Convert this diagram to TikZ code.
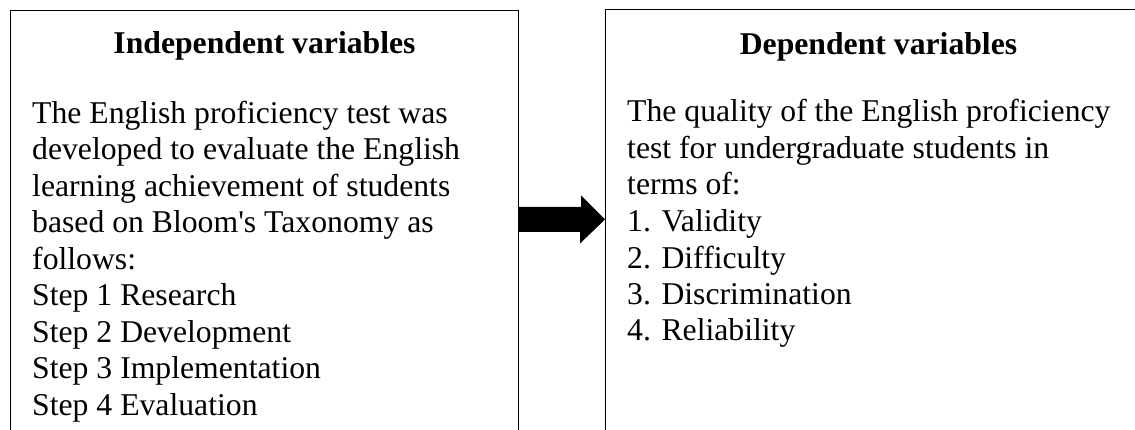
\documentclass[tikz,border=0pt]{standalone}
\usepackage{fontspec}
\setmainfont{Liberation Serif}
\usepackage{tikz}

\tikzset{
  varbox/.style={draw, line width=1pt, rectangle, inner sep=0pt, anchor=north west},
  heading/.style={font=\fontsize{31.7pt}{36.5pt}\selectfont\bfseries, inner sep=0pt, anchor=base},
  % multi-line text: the base anchor sits on the last line
  bodytext/.style={font=\fontsize{31.7pt}{36.5pt}\selectfont, align=left, inner sep=0pt, anchor=base west},
}

\begin{document}
\begin{tikzpicture}[x=1pt, y=-1pt]
  % Page frame
  \fill[white] (0,0) rectangle (1135,430);
  \useasboundingbox (0,0) rectangle (1135,430);
  \clip (0,0) rectangle (1135,430);

  % The two boxes (open at the bottom of the page)
  \node[varbox, minimum width=508pt, minimum height=460pt] (indep) at (10,10) {};
  \node[varbox, minimum width=546pt, minimum height=460pt] (dep) at (605,9.5) {};

  % Headings
  \node[heading] (indeptitle) at ([yshift=-44pt]indep.north) {Independent variables};
  \node[heading] (deptitle) at ([yshift=-45pt]dep.north) {Dependent variables};

  % Box contents
  \node[bodytext] (indepbody) at ([shift={(22,405)}]indep.north west)
    {The English proficiency test was\\
     developed to evaluate the English\\
     learning achievement of students\\
     based on Bloom\textquotesingle s Taxonomy as\\
     follows:\\
     Step 1 Research\\
     Step 2 Development\\
     Step 3 Implementation\\
     Step 4 Evaluation};
  \node[bodytext] (depbody) at ([shift={(22,331.5)}]dep.north west)
    {The quality of the English proficiency\\
     test for undergraduate students in\\
     terms of:\\
     1. Validity\\
     2. Difficulty\\
     3. Discrimination\\
     4. Reliability};

  % Block arrow from left box to right box
  \path (indep.north east) ++(0,209.5) coordinate (tail);
  \coordinate (tip) at (tail -| dep.west);
  \fill (tail) ++(0,-12.5) -- ++(62,0) -- ++(0,-11.5) -- (tip)
    -- ++(-25,24) -- ++(0,-11.5) -- ++(-62,0) -- cycle;
\end{tikzpicture}
\end{document}
